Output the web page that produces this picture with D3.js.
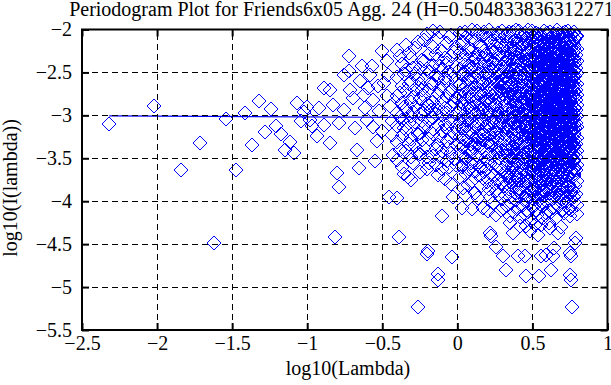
<!DOCTYPE html>
<html>
<head>
<meta charset="utf-8">
<script src="https://cdn.jsdelivr.net/npm/d3@7"></script>
<style>
  body { margin: 0; background: #fff; }
  text { font-family: "Liberation Serif", "Times New Roman", serif; }
</style>
</head>
<body>
<div id="chart"></div>
<script>
const title = "Periodogram Plot for Friends6x05 Agg. 24 (H=0.504833836312271)";
const xTicks = [-2.5, -2, -1.5, -1, -0.5, 0, 0.5, 1];
const yTicks = [-5.5, -5, -4.5, -4, -3.5, -3, -2.5, -2];

// low frequencies, read one by one
const lowPts = [
  [-2.319,-3.095],[-2.018,-2.886],[-1.842,-3.637],[-1.717,-3.32],[-1.62,-4.486],
  [-1.541,-3.04],[-1.474,-3.637],[-1.416,-2.968],[-1.365,-3.35],[-1.319,-2.828],
  [-1.278,-3.198],[-1.24,-2.924],[-1.205,-3.12],[-1.172,-3.215],[-1.148,-3.40],
  [-1.115,-3.316],[-1.088,-3.434],[-1.066,-2.857],[-1.041,-3.062],[-1.02,-2.956],
  [-1.0,-2.905],[-0.979,-3.05],[-0.968,-3.126],[-0.935,-3.24],[-0.924,-2.913],
  [-0.891,-2.68],[-0.891,-3.107],[-0.847,-2.71],[-0.847,-3.32],[-0.825,-2.874],
  [-0.813,-4.416],[-0.802,-3.669],[-0.791,-3.087],[-0.787,-3.835],[-0.758,-2.932],
  [-0.758,-2.525],[-0.725,-2.312],[-0.725,-2.486],[-0.714,-2.70],[-0.692,-2.797],
  [-0.68,-3.145],[-0.669,-3.40],[-0.658,-3.61],[-0.647,-2.60],[-0.636,-2.428],
  [-0.625,-2.758],[-0.614,-2.913],[-0.60,-3.05],[-0.592,-2.68],[-0.58,-2.53],
  [-0.57,-2.428],[-0.56,-3.13],[-0.559,-2.816],[-0.548,-3.532],[-0.537,-3.30],
  [-0.53,-2.66],[-0.52,-2.95],[-0.503,-2.254],[-0.50,-3.18],[-0.49,-2.62],
  [-0.47,-2.37],[-0.47,-2.78],[-0.459,-2.525],[-0.453,-3.956],[-0.448,-2.893],
  [-0.437,-3.067],[-0.437,-3.223],[-0.426,-3.456]
];

// isolated low values under the cloud
const tailPts = [
  [-0.404,-3.963],[-0.386,-4.42],[-0.327,-3.72],[-0.205,-4.61],[-0.195,-4.58],
  [-0.131,-4.843],[-0.131,-4.913],[-0.26,-5.235],[-0.105,-4.177],[-0.039,-4.653],
  [-0.032,-3.956],[0.05,-3.924],[0.028,-4.079],[0.1,-4.09],[0.138,-3.963],
  [0.171,-4.079],[0.205,-4.119],[0.26,-4.157],[0.216,-4.37],[0.226,-4.40],
  [0.26,-4.533],[0.305,-4.634],[0.322,-4.805],[0.349,-4.254],[0.371,-4.37],
  [0.404,-4.642],[0.448,-4.634],[0.455,-4.874],[0.481,-4.351],[0.537,-4.39],
  [0.543,-4.874],[0.559,-4.634],[0.592,-4.622],[0.636,-4.634],[0.625,-4.797],
  [0.647,-4.545],[0.67,-4.37],[0.703,-4.099],[0.747,-4.177],[0.747,-4.602],
  [0.758,-4.634],[0.747,-4.855],[0.758,-4.913],[0.792,-4.428],[0.785,-4.486],
  [0.765,-5.235],[0.592,-4.138],[0.559,-4.273],[0.614,-4.312],[0.459,-4.293],
  [0.415,-4.293],[0.349,-4.177]
];

// band just under the dense cloud
const bandPts = [
  [0.21,-3.86],[0.24,-4.02],[0.27,-3.93],[0.29,-4.10],[0.31,-3.82],[0.33,-4.05],
  [0.35,-3.95],[0.36,-3.78],[0.38,-4.12],[0.39,-3.99],[0.41,-3.86],[0.42,-4.18],
  [0.43,-3.92],[0.44,-4.04],[0.46,-3.83],[0.47,-4.13],[0.48,-3.96],[0.49,-4.22],
  [0.50,-3.88],[0.51,-4.06],[0.52,-3.95],[0.53,-4.16],[0.54,-3.84],[0.55,-4.03],
  [0.56,-3.93],[0.57,-4.20],[0.58,-3.87],[0.59,-4.00],[0.60,-3.91],[0.61,-4.11],
  [0.62,-3.80],[0.63,-3.98],[0.64,-4.08],[0.65,-3.89],[0.66,-4.19],[0.67,-3.94],
  [0.68,-4.05],[0.69,-3.85],[0.70,-3.97],[0.71,-4.14],[0.72,-3.90],[0.73,-4.02],
  [0.74,-3.83],[0.75,-3.96],[0.76,-4.10],[0.77,-3.88],[0.78,-4.01],[0.79,-3.92],
  [0.795,-4.15],[0.52,-4.28],[0.61,-4.25],[0.69,-4.30],[0.45,-4.15],[0.57,-3.79],
  [0.64,-3.82],[0.72,-3.78],[0.40,-3.73],[0.47,-3.76],[0.33,-3.70],[0.25,-3.80]
];

// dense part, estimated column by column
const colX = [
  -0.40,-0.37,-0.34,-0.31,-0.28,-0.25,-0.22,-0.19,-0.16,-0.13,-0.10,-0.07,-0.04,-0.01,
  0.02,0.04,0.06,0.08,0.10,0.12,0.14,0.16,0.18,0.20,0.22,0.24,0.26,0.28,0.30,
  0.315,0.33,0.345,0.36,0.375,0.39,0.405,0.42,0.435,0.45,0.465,0.48,0.495,
  0.505,0.515,0.525,0.535,0.545,0.555,0.565,0.575,0.585,0.595,0.605,0.615,0.625,0.635,0.645,
  0.655,0.665,0.675,0.685,0.695,0.705,0.715,0.725,0.735,0.745,0.755,0.765,0.775,0.785,0.795
];
const colY = [
  [-2.24,-2.55,-2.78,-2.97,-3.12,-3.31,-3.52],
  [-2.40,-2.66,-2.86,-3.05,-3.24,-3.60],
  [-2.18,-2.47,-2.72,-2.93,-3.17,-3.41],
  [-2.33,-2.61,-2.84,-3.01,-3.28,-3.49,-3.75],
  [-2.22,-2.52,-2.69,-2.90,-3.08,-3.36],
  [-2.45,-2.63,-2.81,-2.99,-3.20,-3.45,-3.66],
  [-2.12,-2.37,-2.58,-2.77,-2.95,-3.14,-3.38],
  [-2.28,-2.50,-2.70,-2.88,-3.06,-3.27,-3.55],
  [-2.02,-2.20,-2.43,-2.64,-2.84,-3.03,-3.22,-3.47],
  [-2.10,-2.34,-2.56,-2.75,-2.92,-3.11,-3.34,-3.70],
  [-2.25,-2.47,-2.66,-2.83,-3.00,-3.18,-3.42,-3.62],
  [-2.16,-2.39,-2.60,-2.79,-2.97,-3.15,-3.30,-3.53],
  [-2.06,-2.31,-2.52,-2.71,-2.89,-3.07,-3.26,-3.44,-3.80],
  [-2.20,-2.44,-2.62,-2.80,-2.98,-3.13,-3.35,-3.58],
  [-2.04,-2.27,-2.46,-2.63,-2.78,-2.93,-3.08,-3.25,-3.46,-3.72],
  [-2.14,-2.35,-2.53,-2.70,-2.86,-3.01,-3.17,-3.36,-3.58,-3.85],
  [-2.09,-2.30,-2.49,-2.66,-2.82,-2.97,-3.12,-3.30,-3.51,-3.68],
  [-2.21,-2.41,-2.58,-2.74,-2.89,-3.04,-3.21,-3.40,-3.63],
  [-2.01,-2.24,-2.44,-2.61,-2.77,-2.92,-3.06,-3.23,-3.43,-3.77],
  [-2.12,-2.33,-2.51,-2.68,-2.84,-2.99,-3.15,-3.33,-3.55,-3.90],
  [-2.06,-2.28,-2.47,-2.64,-2.80,-2.95,-3.10,-3.28,-3.48,-3.70],
  [-2.18,-2.38,-2.56,-2.72,-2.87,-3.02,-3.19,-3.38,-3.61,-3.82],
  [-2.03,-2.25,-2.43,-2.60,-2.76,-2.91,-3.05,-3.22,-3.41,-3.66],
  [-2.10,-2.31,-2.50,-2.67,-2.83,-2.98,-3.14,-3.32,-3.53,-3.78],
  [-2.15,-2.36,-2.54,-2.70,-2.85,-3.00,-3.16,-3.35,-3.57,-3.95],
  [-2.05,-2.26,-2.45,-2.62,-2.78,-2.93,-3.09,-3.26,-3.47,-3.71],
  [-2.19,-2.40,-2.57,-2.73,-2.88,-3.03,-3.20,-3.39,-3.62,-3.88],
  [-2.08,-2.29,-2.48,-2.65,-2.81,-2.96,-3.11,-3.29,-3.50,-3.74],
  [-2.02,-2.22,-2.42,-2.59,-2.75,-2.90,-3.04,-3.21,-3.40,-3.64,-3.98],
  [-2.07,-2.31,-2.44,-2.62,-2.71,-2.88,-3.02,-3.13,-3.29,-3.47,-3.66,-3.93],
  [-2.15,-2.26,-2.50,-2.67,-2.80,-2.94,-3.07,-3.22,-3.38,-3.55,-3.79],
  [-2.03,-2.36,-2.49,-2.58,-2.76,-2.91,-2.99,-3.17,-3.33,-3.42,-3.61,-3.86],
  [-2.11,-2.28,-2.41,-2.64,-2.73,-2.85,-3.04,-3.15,-3.26,-3.50,-3.71,-4.02],
  [-2.20,-2.38,-2.53,-2.69,-2.83,-2.96,-3.09,-3.24,-3.40,-3.58,-3.82],
  [-2.01,-2.24,-2.46,-2.57,-2.70,-2.87,-3.01,-3.12,-3.31,-3.45,-3.64,-3.91],
  [-2.13,-2.33,-2.42,-2.61,-2.78,-2.90,-3.06,-3.19,-3.36,-3.53,-3.75,-4.08],
  [-2.06,-2.27,-2.51,-2.66,-2.74,-2.93,-3.03,-3.21,-3.28,-3.48,-3.68,-3.89],
  [-2.18,-2.35,-2.47,-2.59,-2.81,-2.89,-3.10,-3.23,-3.39,-3.57,-3.80],
  [-2.04,-2.22,-2.39,-2.55,-2.72,-2.86,-2.98,-3.14,-3.30,-3.44,-3.62,-3.97],
  [-2.10,-2.30,-2.48,-2.63,-2.77,-2.92,-3.05,-3.18,-3.35,-3.51,-3.73,-3.94],
  [-2.16,-2.37,-2.45,-2.68,-2.79,-2.95,-3.08,-3.26,-3.41,-3.60,-3.84],
  [-2.02,-2.25,-2.40,-2.56,-2.70,-2.84,-3.00,-3.11,-3.27,-3.46,-3.65,-3.87,-4.05],
  [-2.09,-2.23,-2.37,-2.52,-2.64,-2.76,-2.88,-2.99,-3.12,-3.24,-3.38,-3.54,-3.72,-3.98],
  [-2.15,-2.30,-2.45,-2.58,-2.69,-2.83,-2.94,-3.06,-3.17,-3.31,-3.46,-3.63,-3.86],
  [-2.04,-2.27,-2.41,-2.55,-2.66,-2.79,-2.91,-3.03,-3.15,-3.28,-3.42,-3.58,-3.77,-4.10],
  [-2.19,-2.33,-2.48,-2.61,-2.73,-2.86,-2.97,-3.09,-3.21,-3.35,-3.51,-3.69,-3.92],
  [-2.11,-2.25,-2.39,-2.50,-2.63,-2.77,-2.89,-3.01,-3.13,-3.26,-3.40,-3.56,-3.74,-3.99],
  [-2.06,-2.21,-2.35,-2.47,-2.60,-2.71,-2.84,-2.95,-3.08,-3.19,-3.33,-3.49,-3.66,-3.88],
  [-2.13,-2.28,-2.43,-2.56,-2.68,-2.81,-2.93,-3.04,-3.16,-3.30,-3.44,-3.61,-3.81,-4.06],
  [-2.02,-2.18,-2.31,-2.46,-2.59,-2.72,-2.85,-2.98,-3.10,-3.23,-3.37,-3.52,-3.70,-3.94],
  [-2.16,-2.29,-2.42,-2.54,-2.65,-2.78,-2.90,-3.02,-3.14,-3.27,-3.41,-3.57,-3.76],
  [-2.08,-2.24,-2.38,-2.51,-2.62,-2.75,-2.87,-2.99,-3.11,-3.25,-3.39,-3.55,-3.73,-4.01],
  [-2.12,-2.26,-2.40,-2.53,-2.67,-2.80,-2.92,-3.05,-3.18,-3.32,-3.47,-3.64,-3.85],
  [-2.03,-2.20,-2.34,-2.49,-2.61,-2.74,-2.86,-2.97,-3.09,-3.22,-3.36,-3.50,-3.68,-3.90],
  [-2.17,-2.32,-2.44,-2.57,-2.70,-2.82,-2.94,-3.07,-3.20,-3.34,-3.48,-3.65,-3.83,-4.12],
  [-2.10,-2.22,-2.36,-2.50,-2.63,-2.76,-2.88,-3.00,-3.12,-3.26,-3.40,-3.57,-3.75],
  [-2.05,-2.19,-2.33,-2.47,-2.58,-2.71,-2.83,-2.96,-3.08,-3.21,-3.35,-3.51,-3.69,-3.96],
  [-2.14,-2.28,-2.41,-2.55,-2.68,-2.79,-2.91,-3.03,-3.16,-3.29,-3.43,-3.60,-3.79],
  [-2.01,-2.23,-2.37,-2.52,-2.64,-2.77,-2.89,-3.01,-3.13,-3.27,-3.42,-3.58,-3.78,-4.03],
  [-2.18,-2.30,-2.43,-2.56,-2.69,-2.81,-2.93,-3.05,-3.17,-3.31,-3.45,-3.62,-3.87],
  [-2.07,-2.21,-2.35,-2.48,-2.60,-2.73,-2.85,-2.98,-3.10,-3.23,-3.37,-3.53,-3.71,-3.93],
  [-2.12,-2.27,-2.40,-2.53,-2.66,-2.78,-2.90,-3.02,-3.15,-3.28,-3.44,-3.59,-3.80],
  [-2.04,-2.19,-2.32,-2.46,-2.59,-2.72,-2.84,-2.97,-3.09,-3.22,-3.36,-3.52,-3.70,-4.00],
  [-2.15,-2.29,-2.42,-2.55,-2.67,-2.80,-2.92,-3.04,-3.18,-3.32,-3.47,-3.63,-3.84],
  [-2.09,-2.24,-2.38,-2.51,-2.63,-2.75,-2.87,-3.00,-3.12,-3.25,-3.39,-3.56,-3.74,-3.97],
  [-2.02,-2.20,-2.34,-2.49,-2.62,-2.74,-2.86,-2.99,-3.11,-3.24,-3.38,-3.54,-3.72],
  [-2.13,-2.26,-2.39,-2.52,-2.65,-2.77,-2.90,-3.02,-3.14,-3.28,-3.43,-3.60,-3.81,-4.09],
  [-2.06,-2.22,-2.36,-2.50,-2.61,-2.73,-2.85,-2.96,-3.08,-3.21,-3.35,-3.50,-3.67,-3.89],
  [-2.16,-2.31,-2.44,-2.57,-2.69,-2.82,-2.94,-3.06,-3.19,-3.33,-3.48,-3.65,-3.86],
  [-2.03,-2.18,-2.33,-2.47,-2.60,-2.72,-2.84,-2.97,-3.10,-3.23,-3.37,-3.53,-3.71,-3.95],
  [-2.11,-2.25,-2.40,-2.54,-2.66,-2.79,-2.91,-3.03,-3.15,-3.29,-3.44,-3.61,-3.82],
  [-2.08,-2.23,-2.37,-2.51,-2.64,-2.76,-2.88,-3.01,-3.13,-3.26,-3.41,-3.58,-3.77,-4.04]
];

// second pass of columns, between the first ones
const colX2 = [
  -0.385,-0.355,-0.325,-0.295,-0.265,-0.235,-0.205,-0.175,-0.145,-0.115,-0.085,-0.055,-0.025,
  0.03,0.05,0.07,0.09,0.11,0.13,0.15,0.17,0.19,0.21,0.23,0.25,0.27,0.29,
  0.323,0.338,0.353,0.368,0.383,0.398,0.413,0.428,0.443,0.458,0.473,0.488,
  0.51,0.52,0.53,0.54,0.55,0.56,0.57,0.58,0.59,0.60,0.61,0.62,0.63,0.64,0.65,
  0.66,0.67,0.68,0.69,0.70,0.71,0.72,0.73,0.74,0.75,0.76,0.77,0.78,0.79
];
const colY2 = [
  [-2.31,-2.74,-3.02,-3.40],
  [-2.52,-2.90,-3.15,-3.68],
  [-2.27,-2.63,-3.09,-3.33],
  [-2.45,-2.79,-2.96,-3.55],
  [-2.14,-2.58,-3.22,-3.44],
  [-2.36,-2.71,-3.07,-3.29],
  [-2.05,-2.46,-2.87,-3.48,-3.63],
  [-2.18,-2.62,-2.94,-3.19],
  [-2.29,-2.53,-2.99,-3.39,-3.58],
  [-2.03,-2.42,-2.70,-3.24,-3.49],
  [-2.33,-2.57,-2.91,-3.10,-3.74],
  [-2.09,-2.49,-2.74,-3.37,-3.60],
  [-2.26,-2.55,-2.85,-3.21,-3.51],
  [-2.16,-2.52,-2.86,-3.15,-3.37,-3.60],
  [-2.03,-2.41,-2.75,-3.05,-3.27,-3.49],
  [-2.23,-2.58,-2.91,-3.19,-3.42,-3.81],
  [-2.11,-2.46,-2.68,-2.99,-3.33,-3.55],
  [-2.35,-2.55,-2.86,-3.13,-3.38,-3.65],
  [-2.02,-2.40,-2.74,-3.06,-3.24,-3.47],
  [-2.19,-2.50,-2.71,-2.90,-3.35,-3.59],
  [-2.08,-2.33,-2.63,-2.96,-3.29,-3.73],
  [-2.29,-2.52,-2.83,-3.12,-3.50,-3.62],
  [-2.01,-2.42,-2.60,-2.94,-3.23,-3.45],
  [-2.24,-2.47,-2.78,-3.07,-3.31,-3.67],
  [-2.13,-2.35,-2.69,-2.88,-3.18,-3.56],
  [-2.04,-2.30,-2.61,-2.99,-3.26,-3.44],
  [-2.17,-2.53,-2.72,-3.08,-3.34,-3.80],
  [-2.19,-2.38,-2.55,-2.79,-2.97,-3.20,-3.41,-3.58],
  [-2.05,-2.33,-2.60,-2.73,-3.00,-3.12,-3.46,-3.70],
  [-2.22,-2.43,-2.66,-2.83,-3.05,-3.25,-3.52,-3.76],
  [-2.03,-2.34,-2.53,-2.77,-2.93,-3.19,-3.37,-3.61],
  [-2.12,-2.30,-2.61,-2.76,-3.02,-3.17,-3.48,-3.69],
  [-2.17,-2.37,-2.52,-2.80,-2.95,-3.24,-3.39,-3.56],
  [-2.02,-2.21,-2.55,-2.70,-2.98,-3.13,-3.44,-3.85],
  [-2.14,-2.40,-2.57,-2.85,-2.99,-3.16,-3.35,-3.63],
  [-2.08,-2.29,-2.52,-2.67,-2.94,-3.06,-3.48,-3.71],
  [-2.13,-2.35,-2.58,-2.81,-3.01,-3.24,-3.39,-3.55],
  [-2.01,-2.26,-2.41,-2.72,-2.87,-3.13,-3.31,-3.67],
  [-2.20,-2.33,-2.62,-2.74,-3.03,-3.20,-3.36,-3.59],
  [-2.17,-2.44,-2.59,-2.82,-2.93,-3.18,-3.29,-3.47,-3.62,-3.83],
  [-2.10,-2.35,-2.50,-2.73,-2.86,-3.10,-3.23,-3.37,-3.55,-3.70],
  [-2.26,-2.41,-2.57,-2.69,-2.92,-3.03,-3.27,-3.43,-3.61,-3.80],
  [-2.05,-2.31,-2.45,-2.67,-2.82,-2.95,-3.19,-3.33,-3.48,-3.66],
  [-2.15,-2.29,-2.54,-2.66,-2.90,-3.02,-3.25,-3.38,-3.58,-3.77],
  [-2.09,-2.39,-2.51,-2.75,-2.88,-3.11,-3.22,-3.40,-3.53,-3.72],
  [-2.22,-2.36,-2.61,-2.74,-2.97,-3.09,-3.28,-3.45,-3.65,-3.90],
  [-2.12,-2.25,-2.52,-2.65,-2.79,-3.04,-3.17,-3.30,-3.47,-3.63],
  [-2.19,-2.33,-2.47,-2.71,-2.83,-3.07,-3.20,-3.34,-3.50,-3.69],
  [-2.04,-2.30,-2.44,-2.58,-2.86,-2.95,-3.15,-3.29,-3.41,-3.60],
  [-2.15,-2.37,-2.53,-2.69,-2.91,-3.03,-3.24,-3.39,-3.56,-3.74],
  [-2.10,-2.26,-2.42,-2.64,-2.77,-2.99,-3.13,-3.28,-3.45,-3.61],
  [-2.23,-2.38,-2.50,-2.68,-2.88,-3.01,-3.17,-3.31,-3.52,-3.71],
  [-2.07,-2.27,-2.44,-2.61,-2.80,-2.93,-3.14,-3.30,-3.46,-3.64],
  [-2.18,-2.35,-2.49,-2.65,-2.85,-2.98,-3.22,-3.37,-3.55,-3.85],
  [-2.12,-2.30,-2.46,-2.59,-2.72,-2.95,-3.08,-3.20,-3.36,-3.51],
  [-2.05,-2.25,-2.40,-2.62,-2.75,-2.99,-3.11,-3.25,-3.49,-3.68],
  [-2.14,-2.29,-2.53,-2.67,-2.79,-3.04,-3.16,-3.33,-3.44,-3.62],
  [-2.20,-2.34,-2.45,-2.70,-2.84,-2.96,-3.21,-3.35,-3.51,-3.73],
  [-2.09,-2.26,-2.52,-2.64,-2.81,-2.94,-3.12,-3.29,-3.43,-3.58],
  [-2.17,-2.36,-2.49,-2.61,-2.86,-3.00,-3.10,-3.26,-3.40,-3.56],
  [-2.03,-2.31,-2.45,-2.69,-2.82,-2.94,-3.19,-3.31,-3.48,-3.66],
  [-2.13,-2.28,-2.55,-2.70,-2.80,-3.06,-3.17,-3.33,-3.50,-3.79],
  [-2.18,-2.32,-2.46,-2.58,-2.84,-2.96,-3.08,-3.35,-3.52,-3.70],
  [-2.10,-2.28,-2.43,-2.66,-2.79,-3.01,-3.14,-3.28,-3.42,-3.59],
  [-2.05,-2.37,-2.51,-2.63,-2.88,-2.99,-3.12,-3.27,-3.41,-3.57],
  [-2.14,-2.26,-2.54,-2.66,-2.78,-3.03,-3.16,-3.30,-3.46,-3.63],
  [-2.21,-2.35,-2.48,-2.60,-2.85,-2.97,-3.21,-3.35,-3.52,-3.68],
  [-2.08,-2.30,-2.45,-2.70,-2.82,-2.94,-3.09,-3.33,-3.49,-3.64]
];

// fitted line, slope 1-2H
const fitX = [-2.319, 0.798];
const fitY = [-3.005, -3.035];

var width = 611, height = 385;
var x = d3.scaleLinear().domain([-2.5, 1]).range([82, 607.5]);
var y = d3.scaleLinear().domain([-5.5, -2]).range([330, 29.5]);

var pts = lowPts.concat(tailPts, bandPts);
colX.forEach(function (cx, i) {
  colY[i].forEach(function (v) { pts.push([cx, v]); });
});
colX2.forEach(function (cx, i) {
  colY2[i].forEach(function (v) { pts.push([cx, v]); });
});

var svg = d3.select("#chart").append("svg")
  .attr("width", width)
  .attr("height", height);

// diamonds
svg.append("g")
  .selectAll("path")
  .data(pts)
  .enter()
  .append("path")
  .attr("d", "M0,-7L7,0L0,7L-7,0Z")
  .attr("transform", function (d) {
    return "translate(" + Math.round(x(d[0])) + "," + Math.round(y(d[1])) + ")";
  })
  .attr("fill", "none")
  .attr("stroke", "#0000ff")
  .attr("stroke-width", 1)
  .style("shape-rendering", "crispEdges");

// fit line
svg.append("line")
  .attr("x1", x(fitX[0])).attr("y1", y(fitY[0]))
  .attr("x2", x(fitX[1])).attr("y2", y(fitY[1]))
  .attr("stroke", "#0000ff")
  .attr("stroke-width", 1.2);

// grid on top
var grid = svg.append("g")
  .attr("stroke", "black")
  .attr("stroke-width", 1)
  .attr("stroke-dasharray", "6,4")
  .style("shape-rendering", "crispEdges");
grid.selectAll("line.gx")
  .data(xTicks.slice(1, -1))
  .enter().append("line")
  .attr("x1", function (d) { return x(d); })
  .attr("x2", function (d) { return x(d); })
  .attr("y1", y(-5.5)).attr("y2", y(-2));
grid.selectAll("line.gy")
  .data(yTicks.slice(1, -1))
  .enter().append("line")
  .attr("y1", function (d) { return y(d); })
  .attr("y2", function (d) { return y(d); })
  .attr("x1", x(-2.5)).attr("x2", x(1));

var fmt = d3.format("~g");

function styleAxis(g) {
  g.select(".domain").remove();
  g.selectAll(".tick line").attr("stroke-width", 2);
  g.attr("font-size", 20).attr("font-family", "Liberation Serif, serif");
  g.selectAll("text").attr("fill", "black");
}

svg.append("g")
  .attr("transform", "translate(0," + y(-5.5) + ")")
  .call(d3.axisBottom(x).tickValues(xTicks).tickFormat(fmt).tickSize(-7).tickPadding(6))
  .call(styleAxis);
svg.append("g")
  .attr("transform", "translate(0," + y(-2) + ")")
  .call(d3.axisTop(x).tickValues(xTicks).tickFormat("").tickSize(-7))
  .call(styleAxis);
svg.append("g")
  .attr("transform", "translate(" + x(-2.5) + ",0)")
  .call(d3.axisLeft(y).tickValues(yTicks).tickFormat(fmt).tickSize(-7).tickPadding(10))
  .call(styleAxis);
svg.append("g")
  .attr("transform", "translate(" + x(1) + ",0)")
  .call(d3.axisRight(y).tickValues(yTicks).tickFormat("").tickSize(-7))
  .call(styleAxis);

// frame
svg.append("rect")
  .attr("x", x(-2.5)).attr("y", y(-2))
  .attr("width", x(1) - x(-2.5))
  .attr("height", y(-5.5) - y(-2))
  .attr("fill", "none")
  .attr("stroke", "black")
  .attr("stroke-width", 2);

svg.append("text")
  .attr("x", 344.75).attr("y", 16)
  .attr("text-anchor", "middle")
  .attr("font-size", 20)
  .text(title);

svg.append("text")
  .attr("x", 348).attr("y", 375)
  .attr("text-anchor", "middle")
  .attr("font-size", 20)
  .text("log10(Lambda)");

svg.append("text")
  .attr("transform", "translate(17,188) rotate(-90)")
  .attr("text-anchor", "middle")
  .attr("font-size", 20)
  .text("log10(I(lambda))");
</script>
</body>
</html>
